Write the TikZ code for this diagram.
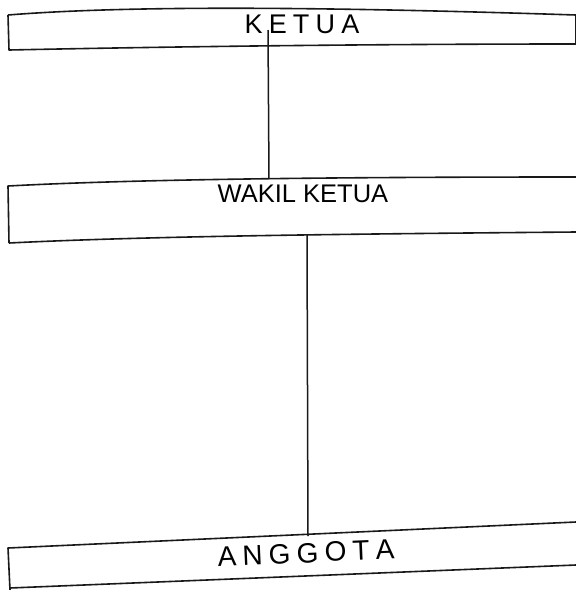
\documentclass[tikz,border=0pt]{standalone}
\usepackage{fontspec}
\setmainfont{Liberation Sans}
\begin{document}
\begin{tikzpicture}[x=1pt,y=-1pt,
  boxline/.style={draw=black!90,line width=1.6pt,line join=round},
  conn/.style={draw=black!90,line width=1.5pt},
  lbl/.style={inner sep=0pt,text=black}]
\useasboundingbox[fill=white] (0,0) rectangle (576,590);
% KETUA box
\draw[boxline] (8,15) .. controls (120,6) and (300,6) .. (576,15)
  (576,44) .. controls (400,44) and (200,46) .. (9,50) -- (8,15);
\draw[boxline] (576,15) -- (576,44);
\node[lbl,font=\fontsize{27}{29}\selectfont] (ketua) at (302,24) {K\hspace{0.23em}E\hspace{0.23em}T\hspace{0.23em}U\hspace{0.23em}A};
\coordinate (k1) at (268,30);
% WAKIL KETUA box
\draw[boxline] (9,243) -- (8,186) .. controls (120,180) and (300,177) .. (576,177);
\draw[boxline] (9,243) .. controls (150,236) and (350,234) .. (576,232);
\node[lbl,font=\fontsize{25.5}{27}\selectfont] (wakil) at (303,194) {WAKIL KETUA};
\coordinate (w1) at (269,179);
\coordinate (w2) at (307,235);
% ANGGOTA box
\draw[boxline] (10,590) -- (8,548) -- (576,522);
\draw[boxline] (10,588) -- (576,565);
\node[lbl,rotate=2.5,font=\fontsize{28}{30}\selectfont] (anggota) at (306,553) {A\hspace{0.22em}N\hspace{0.22em}G\hspace{0.22em}G\hspace{0.22em}O\hspace{0.22em}T\hspace{0.22em}A};
\coordinate (a1) at (308,536);
% connectors
\draw[conn] (k1) -- (w1);
\draw[conn] (w2) -- (a1);
\end{tikzpicture}
\end{document}
